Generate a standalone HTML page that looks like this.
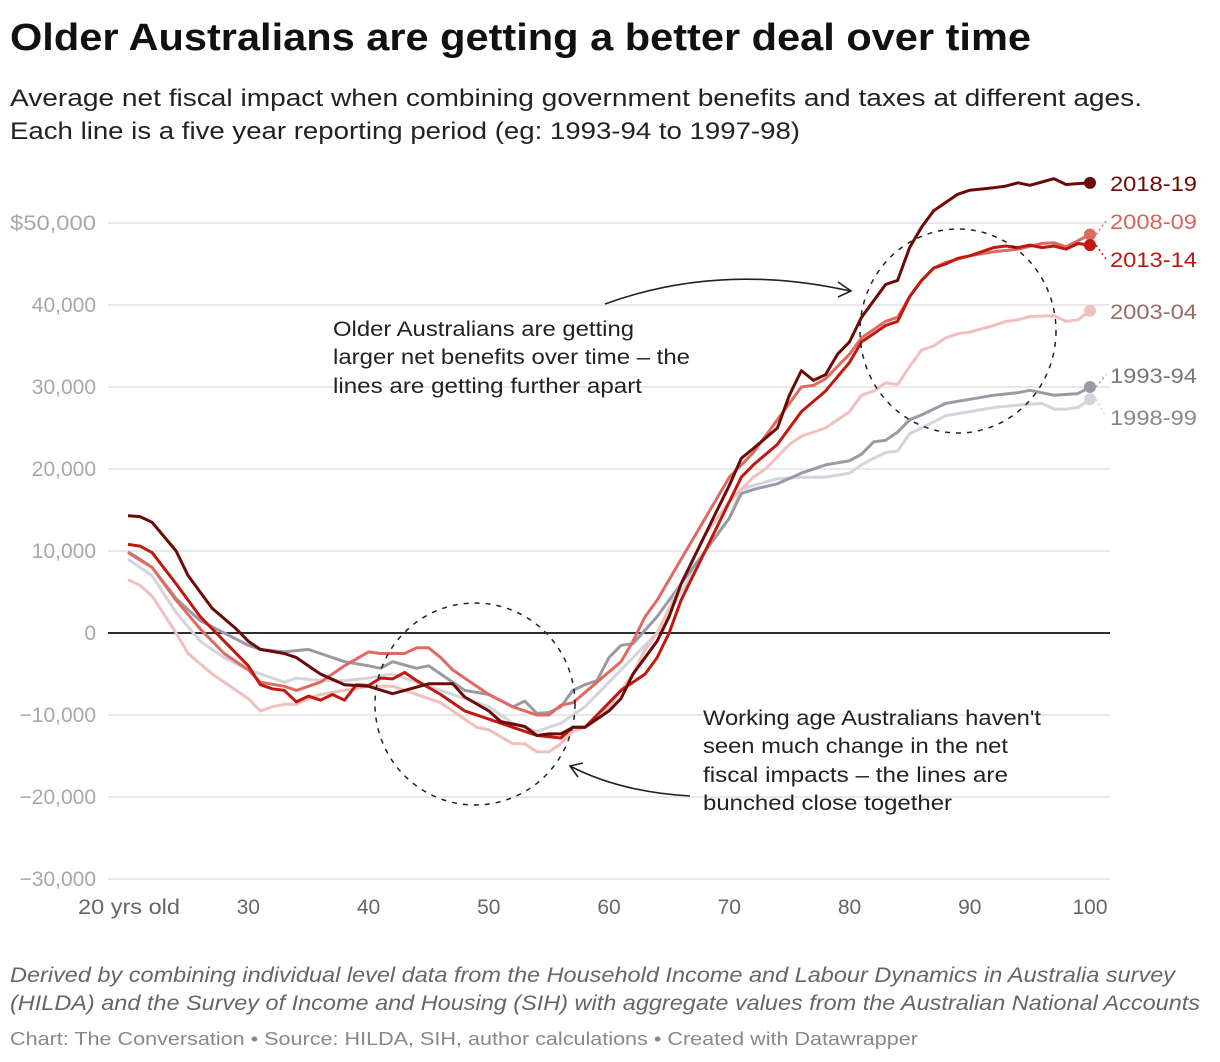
<!DOCTYPE html>
<html><head><meta charset="utf-8"><style>
body{margin:0;background:#fff;font-family:"Liberation Sans",sans-serif;}
svg{display:block}
</style></head><body>
<svg id="c" width="1220" height="1062" viewBox="0 0 1220 1062" xmlns="http://www.w3.org/2000/svg" font-family="Liberation Sans, sans-serif">
<text x="10" y="50" font-size="38" font-weight="bold" fill="#111" textLength="1021" lengthAdjust="spacingAndGlyphs">Older Australians are getting a better deal over time</text>
<text x="10" y="106" font-size="24" fill="#222" textLength="1132" lengthAdjust="spacingAndGlyphs">Average net fiscal impact when combining government benefits and taxes at different ages.</text>
<text x="10" y="139" font-size="24" fill="#222" textLength="790" lengthAdjust="spacingAndGlyphs">Each line is a five year reporting period (eg: 1993-94 to 1997-98)</text>
<g id="grid" stroke="#e2e2e2" stroke-width="1.5"></g>
<g id="ylab" font-size="21" fill="#a8a8a8" text-anchor="end"></g>
<g id="xlab" font-size="21" fill="#666" text-anchor="middle"></g>
<line x1="108" y1="633" x2="1110" y2="633" stroke="#111" stroke-width="1.8"/>
<g id="series" fill="none" stroke-width="3" stroke-linejoin="round"></g>
<ellipse cx="958" cy="331" rx="98" ry="102" fill="none" stroke="#222" stroke-width="1.5" stroke-dasharray="5,6"/>
<ellipse cx="475" cy="704" rx="100" ry="101" fill="none" stroke="#222" stroke-width="1.5" stroke-dasharray="5,6"/>
<path d="M605,304 Q720,262 850,291" fill="none" stroke="#222" stroke-width="1.6"/>
<path d="M838,282 L851,291 L838,297" fill="none" stroke="#222" stroke-width="1.6"/>
<path d="M690,796 Q620,792 570,766" fill="none" stroke="#222" stroke-width="1.6"/>
<path d="M583,763 L570,766 L578,777" fill="none" stroke="#222" stroke-width="1.6"/>
<g font-size="21" fill="#222" lengthAdjust="spacingAndGlyphs">
<text x="333" y="336" textLength="301" lengthAdjust="spacingAndGlyphs">Older Australians are getting</text>
<text x="333" y="364" textLength="357" lengthAdjust="spacingAndGlyphs">larger net benefits over time – the</text>
<text x="333" y="393" textLength="309" lengthAdjust="spacingAndGlyphs">lines are getting further apart</text>
<text x="703" y="725" textLength="338" lengthAdjust="spacingAndGlyphs">Working age Australians haven't</text>
<text x="703" y="753" textLength="305" lengthAdjust="spacingAndGlyphs">seen much change in the net</text>
<text x="703" y="782" textLength="305" lengthAdjust="spacingAndGlyphs">fiscal impacts – the lines are</text>
<text x="703" y="810" textLength="249" lengthAdjust="spacingAndGlyphs">bunched close together</text>
</g>
<g id="labels" font-size="21"></g>
<g font-size="21" font-style="italic" fill="#666">
<text x="10" y="982" textLength="1165" lengthAdjust="spacingAndGlyphs">Derived by combining individual level data from the Household Income and Labour Dynamics in Australia survey</text>
<text x="10" y="1010" textLength="1190" lengthAdjust="spacingAndGlyphs">(HILDA) and the Survey of Income and Housing (SIH) with aggregate values from the Australian National Accounts</text>
</g>
<text x="10" y="1045" font-size="18" fill="#888" textLength="908" lengthAdjust="spacingAndGlyphs">Chart: The Conversation • Source: HILDA, SIH, author calculations • Created with Datawrapper</text>
</svg>
<script>
var NS="http://www.w3.org/2000/svg";
function px(a){return 128+(a-20)*12.025}
function py(v){return 633-v*8.2}
function el(p,t,at,txt){var e=document.createElementNS(NS,t);for(var k in at)e.setAttribute(k,at[k]);if(txt)e.textContent=txt;document.getElementById(p).appendChild(e);return e}
[50,40,30,20,10,-10,-20,-30].forEach(function(v){el("grid","line",{x1:108,x2:1110,y1:py(v),y2:py(v)})});
[50,40,30,20,10,0,-10,-20,-30].forEach(function(v){var s=v==50?"$50,000":(v==0?"0":(v<0?"−":"")+Math.abs(v)+",000");var a={x:96,y:py(v)+7};if(v==50){a.textLength=86;a.lengthAdjust="spacingAndGlyphs"}el("ylab","text",a,s)});
el("xlab","text",{x:129,y:914,textLength:102,lengthAdjust:"spacingAndGlyphs"},"20 yrs old");
[30,40,50,60,70,80,90,100].forEach(function(a){el("xlab","text",{x:px(a),y:914},""+a)});
var S=[
["#d5d4da","1998-99","#888",425,"20:9,22:7,24:2.5,26:-1,28:-3,30:-4.5,32:-5.5,33:-6,34:-5.5,36:-5.8,38:-5.8,40:-5.5,42:-5,44:-6,46:-7,48:-8,50:-9,52:-11,54:-12,56:-11,57:-10,58:-9,60:-6,61:-4.5,62:-3,64:0,66:5,68:10,70:14,71:17.5,72:18,74:18.8,76:19,78:19,80:19.5,81:20.5,82:21.3,83:22,84:22.2,85:24.3,86:25,88:26.5,90:27,92:27.5,94:27.8,96:28,97:27.3,98:27.3,99:27.5,100:28.5"],
["#9b99a6","1993-94","#777",383,"20:9.9,21:9,22:8,24:4.2,26:1.5,28:0,30:-1.5,31:-2,33:-2.3,35:-2,36:-2.5,38:-3.5,40:-4,41:-4.3,42:-3.5,44:-4.3,45:-4,46:-5,48:-7,50:-7.5,52:-9,53:-8.3,54:-9.8,55:-9.7,56:-9,57:-7,58:-6.3,59:-5.8,60:-3,61:-1.5,62:-1.3,64:2,66:6,68:10,70:14,71:17,72:17.5,74:18.2,76:19.5,78:20.5,80:21,81:21.8,82:23.3,83:23.5,84:24.5,85:26,86:26.6,88:28,90:28.5,92:29,94:29.3,95:29.6,97:29,99:29.2,100:30"],
["#f0c0bd","2003-04","#9a6a68",319,"20:6.5,21:5.8,22:4.5,24:0,25:-2.5,27:-5,29:-7,30:-8,31:-9.5,32:-9,33:-8.7,34:-8.7,35:-8,36:-7.5,38:-7,40:-6.5,42:-6.5,44:-7.5,46:-8.5,48:-10.5,49:-11.5,50:-11.8,52:-13.5,53:-13.5,54:-14.5,55:-14.5,56:-13.5,57:-12,58:-11.5,60:-9,62:-5,63:-2,64:0,66:6,68:12,70:16,72:19,73:20,74:21.5,75:23,76:24,78:25,80:27,81:29,82:29.5,83:30.5,84:30.3,85:32.5,86:34.5,87:35,88:36,89:36.5,90:36.7,92:37.5,93:38,94:38.2,95:38.6,97:38.7,98:38,99:38.2,100:39.3"],
["#e06a62","2008-09","#d9645c",229,"20:9.8,22:8,24:4,26:0.5,28:-2.5,30:-4.5,31:-6,33:-6.5,34:-7,36:-6,38:-4,40:-2.3,41:-2.5,43:-2.5,44:-1.8,45:-1.8,46:-3,47:-4.5,48:-5.5,50:-7.5,52:-9,54:-10,55:-10,56:-8.8,57:-8.5,59:-6,61:-3.5,62:-1,63:2,64:4,66:9,68:14,70:19,72:22,74:26,75:28,76:30,77:30.2,78:31,79:32.5,80:34,81:36,82:37,83:38,84:38.5,85:41,86:43,87:44.5,88:45.2,90:46,92:46.5,94:46.8,96:47.5,97:47.6,98:47.1,100:48.6"],
["#c0180f","2013-14","#b81a12",267,"20:10.8,21:10.6,22:9.8,24:6,26:2,28:-1,30:-4,31:-6.3,32:-6.8,33:-7,34:-8.4,35:-7.7,36:-8.2,37:-7.5,38:-8.2,39:-6.3,40:-6.4,41:-5.5,42:-5.6,43:-4.8,44:-5.8,46:-7.5,48:-9.5,50:-10.5,52:-11.5,54:-12.5,56:-12.8,57:-11.5,58:-11.5,59:-10,61:-7,63:-5,64:-3,65:0,66:4,68:10,70:16,71:19,72:20.5,74:23,75:25,76:27,78:29.5,80:33,81:35.5,82:36.5,83:37.5,84:38,85:41,86:43,87:44.5,88:45,89:45.7,90:46,91:46.5,92:47,93:47.2,94:47,95:47.3,96:47,97:47.2,98:46.8,99:47.5,100:47.3"],
["#6b0a06","2018-19","#6b0a06",191,"20:14.3,21:14.2,22:13.5,24:10,25:7,27:3,29:0.5,30:-1,31:-2,33:-2.5,34:-3,36:-5,38:-6.3,40:-6.5,42:-7.4,43:-7,45:-6.2,47:-6.2,48:-7.8,50:-9.5,51:-10.8,53:-11.4,54:-12.5,55:-12.3,56:-12.3,57:-11.5,58:-11.5,60:-9.5,61:-8,62:-5,64:-1,65:2,66:6,67:9,69:15,70:18,71:21.3,72:22.5,74:25,75:29,76:32,77:30.8,78:31.5,79:34,80:35.5,81:38.5,82:40.5,83:42.5,84:43,85:47,86:49.5,87:51.5,88:52.5,89:53.5,90:54,92:54.3,93:54.5,94:54.9,95:54.6,96:55,97:55.4,98:54.7,100:54.9"]];
S.forEach(function(s){
 var pts=s[4].split(",").map(function(p){var q=p.split(":");return [px(+q[0]),py(+q[1])]});
 el("series","polyline",{points:pts.map(function(p){return p[0].toFixed(1)+","+p[1].toFixed(1)}).join(" "),stroke:s[0]});
 var e=pts[pts.length-1];
 el("series","circle",{cx:e[0],cy:e[1],r:6,fill:s[0],stroke:"none"});
 if(Math.abs(s[3]-8-e[1])>6) el("series","line",{x1:e[0]+6,y1:e[1],x2:1106,y2:s[3]-8,stroke:s[0],"stroke-width":1.5,"stroke-dasharray":"2,3"});
 el("labels","text",{x:1110,y:s[3],fill:s[2],textLength:87,lengthAdjust:"spacingAndGlyphs"},s[1]);
});
</script>
</body></html>
